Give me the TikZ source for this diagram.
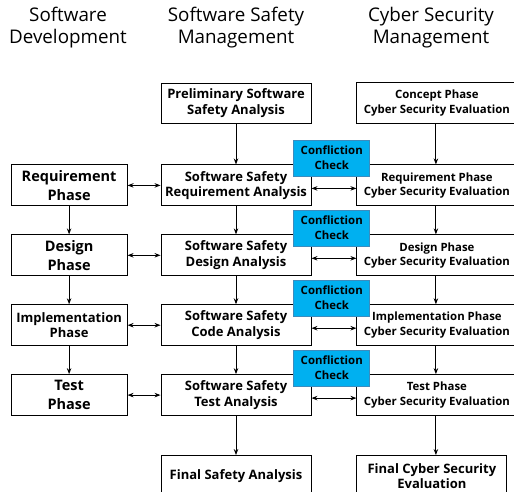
\documentclass[tikz,border=0pt]{standalone}
\usepackage{fontspec}
\setmainfont{Open Sans}
\usepackage{tikz}
\usetikzlibrary{arrows.meta,positioning}

\definecolor{checkblue}{RGB}{0,176,240}
\definecolor{checkedge}{RGB}{60,140,190}

\begin{document}
\begin{tikzpicture}[
    x=1pt, y=1pt,
    box/.style={draw, line width=0.9pt, align=center, inner sep=1pt,
                font=\bfseries\fontsize{13}{15.5}\selectfont},
    devbox/.style={box, minimum width=116pt, minimum height=41pt},
    safebox/.style={box, minimum width=150pt, minimum height=41pt},
    secbox/.style={box, minimum width=160pt, minimum height=41pt,
                   font=\bfseries\fontsize{11.4}{14.5}\selectfont},
    chk/.style={draw=checkedge, fill=checkblue, line width=0.6pt,
                minimum width=76pt, minimum height=36pt, inner sep=0pt,
                align=center, anchor=south west,
                font=\bfseries\fontsize{11.4}{15}\selectfont},
    head/.style={align=center, font=\fontsize{18.8}{22}\selectfont},
    flow/.style={-{Stealth[length=6pt,width=4.5pt]}, line width=0.9pt},
    link/.style={{Stealth[length=6pt,width=4.5pt]}-{Stealth[length=6pt,width=4.5pt]},
                 line width=0.9pt}
]
\useasboundingbox (0,0) rectangle (514,-492);

% column titles
\node[head] (tdev) at (68,-28) {Software\\Development};
\node[head] (tsafe) at (236,-28) {Software Safety\\Management};
\node[head] (tsec) at (431,-28) {Cyber Security\\Management};

% software safety management
\node[safebox, minimum height=40pt] (pre) at (236,-103)
    {Preliminary Software\\Safety Analysis};
\node[safebox, below=41pt of pre] (sreq) {Software Safety\\Requirement Analysis};
\node[safebox, below=28pt of sreq] (sdes) {Software Safety\\Design Analysis};
\node[safebox, below=28pt of sdes] (scode) {Software Safety\\Code Analysis};
\node[safebox, below=28pt of scode] (stest) {Software Safety\\Test Analysis};
\node[safebox, below=39pt of stest] (sfin) {Final Safety Analysis};

% software development
\node[devbox, left=33pt of sreq, font=\bfseries\fontsize{14.5}{19}\selectfont]
    (dreq) {Requirement\\Phase};
\node[devbox, left=33pt of sdes, font=\bfseries\fontsize{14.5}{19}\selectfont]
    (ddes) {Design\\Phase};
\node[devbox, left=33pt of scode] (dimp) {Implementation\\Phase};
\node[devbox, left=33pt of stest, font=\bfseries\fontsize{14.5}{19}\selectfont]
    (dtest) {Test\\Phase};

% cyber security management
\node[secbox, right=45pt of pre] (ccon) {Concept Phase\\Cyber Security Evaluation};
\node[secbox, right=45pt of sreq] (creq) {Requirement Phase\\Cyber Security Evaluation};
\node[secbox, right=45pt of sdes] (cdes) {Design Phase\\Cyber Security Evaluation};
\node[secbox, right=45pt of scode] (cimp) {Implementation Phase\\Cyber Security Evaluation};
\node[secbox, right=45pt of stest] (ctest) {Test Phase\\Cyber Security Evaluation};
\node[box, minimum width=150pt, minimum height=41pt, right=45pt of sfin,
      font=\bfseries\fontsize{13}{15}\selectfont]
    (cfin) {Final Cyber Security\\Evaluation};

% vertical flow
\foreach \a/\b in {pre/sreq, sreq/sdes, sdes/scode, scode/stest, stest/sfin,
                   dreq/ddes, ddes/dimp, dimp/dtest}
    \draw[flow] (\a) -- (\b);
\foreach \a/\b in {ccon/creq, creq/cdes, cdes/cimp, cimp/ctest}
    \draw[flow] ([xshift=-1pt]\a.south) -- ([xshift=-1pt]\b.north);
\draw[flow] ([xshift=-1pt]ctest.south) -- ([xshift=4pt]cfin.north);

% links between columns
\foreach \d/\s/\c in {dreq/sreq/creq, ddes/sdes/cdes, dimp/scode/cimp,
                      dtest/stest/ctest} {
    \draw[link] (\d) -- (\s);
    \draw[link] ([yshift=-3pt]\s.east) -- ([yshift=-3pt]\c.west);
}

% confliction checks
\foreach \s/\n in {sreq/k1, sdes/k2, scode/k3, stest/k4}
    \node[chk] (\n) at ([xshift=-18pt, yshift=-12pt]\s.north east)
        {Confliction\\Check};

\end{tikzpicture}
\end{document}
